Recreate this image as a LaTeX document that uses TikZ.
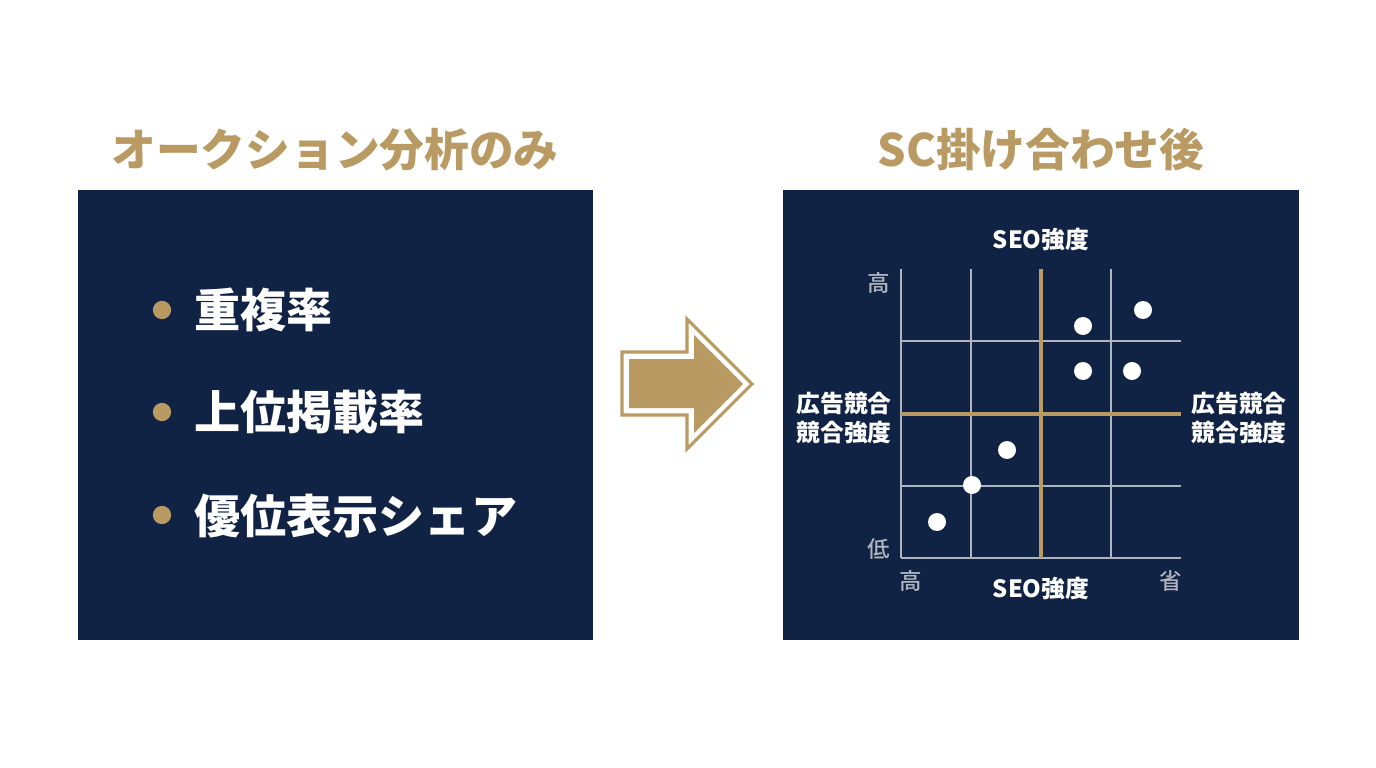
\documentclass[tikz,border=0pt]{standalone}
\usepackage{fontspec}
\setmainfont{Noto Sans CJK JP}
\newfontfamily\cjkmedium{Noto Sans CJK JP Medium}
\definecolor{navy}{HTML}{112344}
\definecolor{gold}{HTML}{B89A62}
\definecolor{gridgray}{HTML}{B0B4BE}
\begin{document}
\begin{tikzpicture}[x=0.025cm,y=-0.025cm]

	\tikzstyle{panel_box} = [draw=none, fill=navy]
	\tikzstyle{title_text} = [inner sep=0pt, text=gold, font=\fontsize{31.8}{36}\selectfont\bfseries]
	\tikzstyle{item_text} = [inner sep=0pt, anchor=west, text=white, font=\fontsize{32.8}{38}\selectfont\bfseries]
	\tikzstyle{item_dot} = [circle, inner sep=0pt, minimum size=13pt, fill=gold]
	\tikzstyle{axis_text} = [inner sep=0pt, align=center, text=white, font=\fontsize{16.9}{21.3}\selectfont\bfseries]
	\tikzstyle{scale_text} = [inner sep=0pt, text=gridgray, font=\fontsize{16}{18}\selectfont\cjkmedium]
	\tikzstyle{point_dot} = [circle, inner sep=0pt, minimum size=12.8pt, fill=white]
	\tikzstyle{grid_line} = [draw=gridgray, line width=1.7pt]
	\tikzstyle{mid_line} = [draw=gold, line width=2.6pt]

	\useasboundingbox (0,0) rectangle (1376,768);

%------------------------------------------------------------
	\node[title_text] (title_l) at (335,150) {オークション分析のみ};
	\node[title_text] (title_r) at (1041,150) {SC掛け合わせ後};

	\fill[panel_box] (78,190) rectangle (593,640);
	\fill[panel_box] (783,190) rectangle (1299,640);

%------------------------------------------------------------

	\node[item_dot] (dot1) at (162,310) {};
	\node[item_dot] (dot2) at (162,412) {};
	\node[item_dot] (dot3) at (162,515) {};

	\node[item_text] (item1) at (194,310) {重複率};
	\node[item_text] (item2) at (194,412) {上位掲載率};
	\node[item_text] (item3) at (194,516) {優位表示シェア};

%------------------------------------------------------------

	\draw[draw=gold, line width=2.2pt, fill=white] (622,352) -- (687,352) -- (687,319) -- (752,384)
		-- (687,449) -- (687,415) -- (622,415) -- cycle;
	\fill[gold] (629,359) -- (694,359) -- (694,335) -- (743,384) -- (694,433) -- (694,408) -- (629,408) -- cycle;

%------------------------------------------------------------

	\coordinate (x0t) at (901,269);
	\coordinate (x1t) at (971,269);
	\coordinate (x2t) at (1041,269);
	\coordinate (x3t) at (1111,269);

	\coordinate (x0b) at (901,558);
	\coordinate (x1b) at (971,558);
	\coordinate (x2b) at (1041,558);
	\coordinate (x3b) at (1111,558);

	\coordinate (y1l) at (901,341);
	\coordinate (y2l) at (901,414);
	\coordinate (y3l) at (901,486);

	\coordinate (y1r) at (1181,341);
	\coordinate (y2r) at (1181,414);
	\coordinate (y3r) at (1181,486);
	\coordinate (y4r) at (1181,558);

	\draw[grid_line] (x0t) -- (x0b);
	\draw[grid_line] (x1t) -- (x1b);
	\draw[grid_line] (x3t) -- (x3b);
	\draw[grid_line] (y1l) -- (y1r);
	\draw[grid_line] (y3l) -- (y3r);
	\draw[grid_line] (x0b) -- (y4r);
	\draw[mid_line] (y2l) -- (y2r);
	\draw[mid_line] (x2t) -- (x2b);

%------------------------------------------------------------

	\node[point_dot] (p1) at (1083,326) {};
	\node[point_dot] (p2) at (1143,310) {};
	\node[point_dot] (p3) at (1083,371) {};
	\node[point_dot] (p4) at (1132,371) {};
	\node[point_dot] (p5) at (1007,450) {};
	\node[point_dot] (p6) at (972,485) {};
	\node[point_dot] (p7) at (937,522) {};

%------------------------------------------------------------

	\node[axis_text] (seo_t) at (1041,240) {SEO強度};
	\node[axis_text] (seo_b) at (1041,589) {SEO強度};
	\node[axis_text] (ad_l) at (844,418) {広告競合\\競合強度};
	\node[axis_text] (ad_r) at (1239,418) {広告競合\\競合強度};

	\node[scale_text] (high_y) at (879,283) {高};
	\node[scale_text] (low_y) at (879,549) {低};
	\node[scale_text] (high_x) at (911,581) {高};
	\node[scale_text] (save_x) at (1171,581) {省};

\end{tikzpicture}
\end{document}
